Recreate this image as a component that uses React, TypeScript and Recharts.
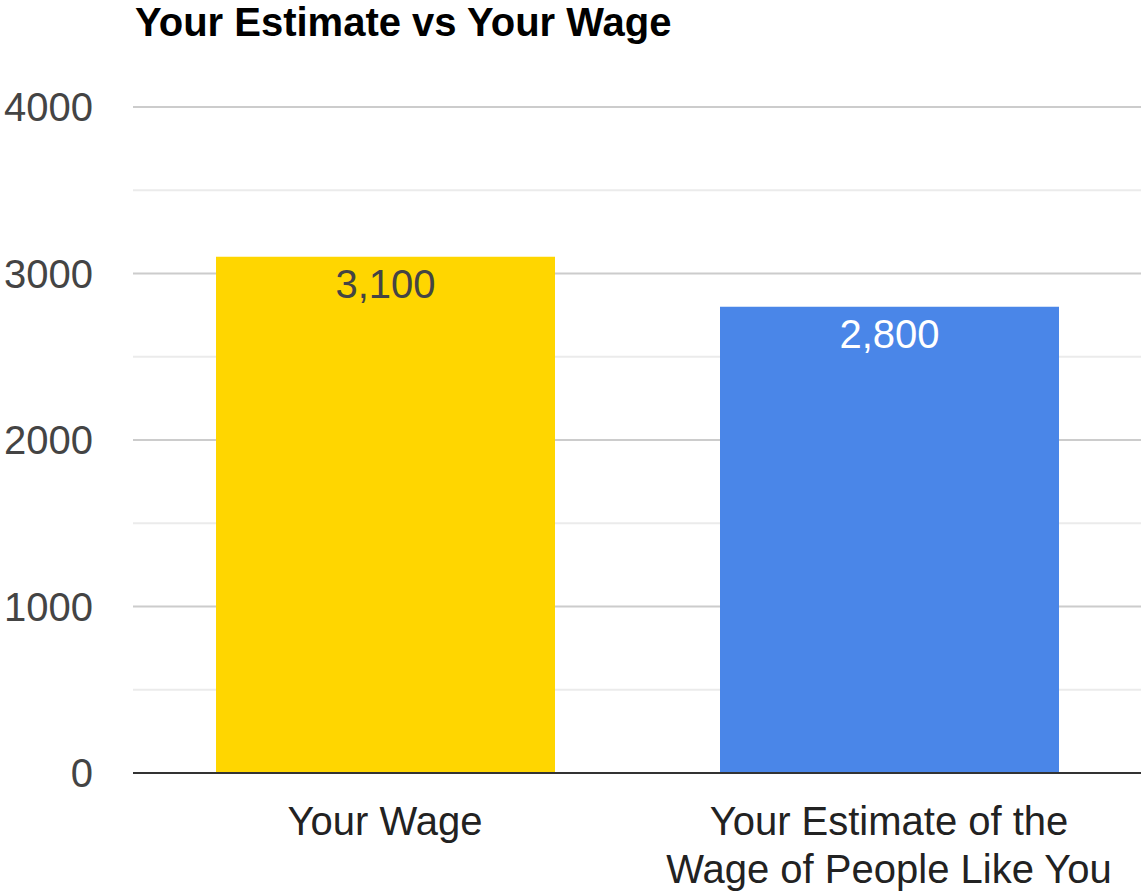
import { BarChart, Bar, XAxis, YAxis, CartesianGrid, Cell, LabelList } from "recharts";

const categories = ["Your Wage", "Your Estimate of the Wage of People Like You"];
const wages = [3100, 2800];
const barColors = ["#FFD600", "#4A86E8"];
const labelColors = ["#444444", "#FFFFFF"];
const majorTicks = [0, 1000, 2000, 3000, 4000];
const minorTicks = [500, 1500, 2500, 3500];
// x-axis labels as they wrap in the original
const tickLines: Record<string, string[]> = {
  "Your Wage": ["Your Wage"],
  "Your Estimate of the Wage of People Like You": ["Your Estimate of the", "Wage of People Like You"],
};

const data = categories.map((name, i) => ({ name, value: wages[i] }));

const FONT = "'Liberation Sans', Arial, sans-serif";

function XTick(props: any) {
  const { x, y, payload } = props;
  const lines = tickLines[payload.value] || [payload.value];
  return (
    <text x={x} y={y} textAnchor="middle" fill="#222" fontSize={40} fontFamily={FONT}>
      {lines.map((l, i) => (
        <tspan key={i} x={x} dy={i === 0 ? 54 : 48}>
          {l}
        </tspan>
      ))}
    </text>
  );
}

function ValueLabel(props: any) {
  const { x, y, width, value, index } = props;
  return (
    <text
      x={x + width / 2}
      y={y + 41}
      textAnchor="middle"
      fill={labelColors[index]}
      fontSize={40}
      fontFamily={FONT}
    >
      {value.toLocaleString("en-US")}
    </text>
  );
}

export default function App() {
  return (
    <div style={{ position: "fixed", left: 0, top: 0, width: 1141, height: 894, background: "#fff" }}>
      <div
        style={{
          position: "absolute",
          left: 135,
          top: 0,
          fontFamily: FONT,
          fontWeight: "bold",
          fontSize: 40,
          color: "#000",
          whiteSpace: "nowrap",
        }}
      >
        Your Estimate vs Your Wage
      </div>
      <BarChart width={1141} height={894} data={data} margin={{ top: 107, right: 0, bottom: 0, left: 0 }} barSize={339}>
        <CartesianGrid vertical={false} horizontalValues={minorTicks} stroke="#ebebeb" strokeWidth={2} />
        <CartesianGrid vertical={false} horizontalValues={majorTicks} stroke="#cccccc" strokeWidth={2} />
        <YAxis
          width={133}
          domain={[0, 4000]}
          ticks={majorTicks}
          axisLine={false}
          tickLine={false}
          tickSize={0}
          tickMargin={40}
          tick={{ fontSize: 40, fill: "#444", fontFamily: FONT }}
        />
        <XAxis
          dataKey="name"
          height={121}
          axisLine={{ stroke: "#333", strokeWidth: 2 }}
          tickLine={false}
          tick={<XTick />}
          interval={0}
        />
        <Bar dataKey="value" isAnimationActive={false}>
          {data.map((d, i) => (
            <Cell key={d.name} fill={barColors[i]} />
          ))}
          <LabelList dataKey="value" content={<ValueLabel />} />
        </Bar>
      </BarChart>
    </div>
  );
}
